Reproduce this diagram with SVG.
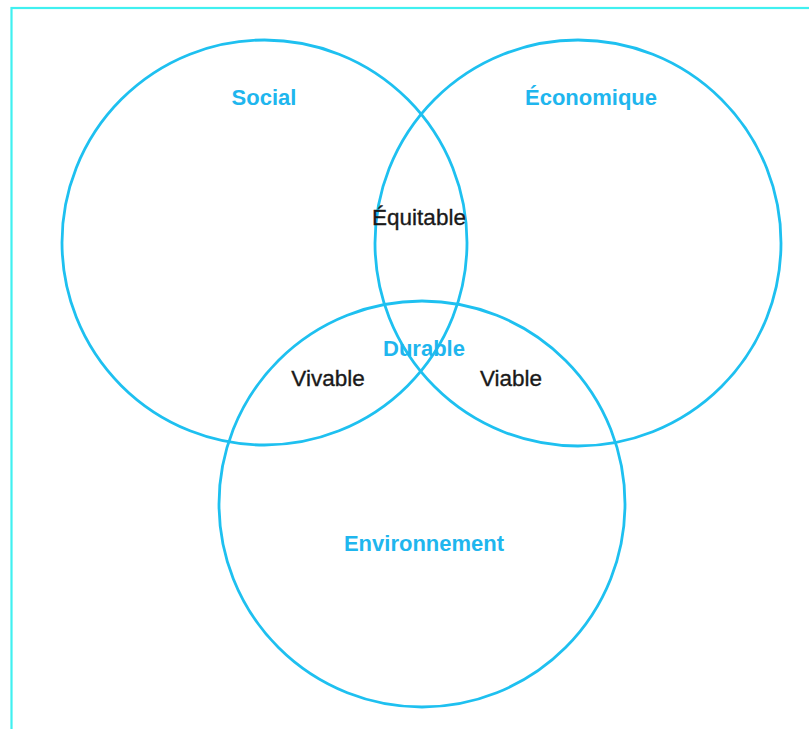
<svg xmlns="http://www.w3.org/2000/svg" width="809" height="729" viewBox="0 0 809 729">
  <style>
    .ring { fill: none; stroke: #1ec0f0; stroke-width: 2.8; }
    .title { font-family: "Liberation Sans", Arial, sans-serif; font-weight: bold; font-size: 22px; fill: #1fb6ee; text-anchor: middle; }
    .zone { font-family: "Liberation Sans", Arial, sans-serif; font-size: 22.5px; fill: #1a1a1a; stroke: #1a1a1a; stroke-width: 0.35; text-anchor: middle; }
  </style>
  <rect width="809" height="729" fill="#ffffff"/>
  <!-- outer frame -->
  <rect x="11.5" y="8" width="820" height="760" fill="none" stroke="#40f0f0" stroke-width="2.2"/>

  <g id="social">
    <circle class="ring" cx="264.5" cy="242.5" r="202.5"/>
    <text class="title" x="264" y="105">Social</text>
  </g>
  <g id="economique">
    <circle class="ring" cx="578" cy="243" r="203"/>
    <text class="title" x="591" y="105">Économique</text>
  </g>
  <g id="environnement">
    <circle class="ring" cx="422" cy="504" r="203"/>
    <text class="title" x="424" y="551">Environnement</text>
  </g>

  <g id="equitable">
    <text class="zone" x="419" y="225">Équitable</text>
  </g>
  <g id="durable">
    <text class="title" x="424" y="356">Durable</text>
  </g>
  <g id="vivable">
    <text class="zone" x="328" y="386">Vivable</text>
  </g>
  <g id="viable">
    <text class="zone" x="511" y="386">Viable</text>
  </g>
</svg>
